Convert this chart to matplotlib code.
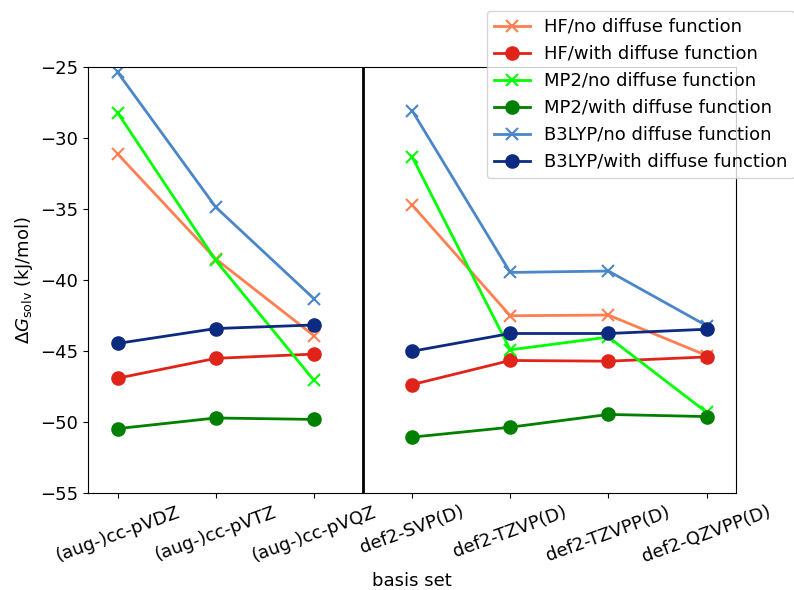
#!/usr/bin/env python3
"""Solvation free energy vs basis set for HF, MP2 and B3LYP."""

import matplotlib
matplotlib.use("Agg")
import matplotlib.pyplot as plt
import numpy as np

basis_sets = ["(aug-)cc-pVDZ", "(aug-)cc-pVTZ", "(aug-)cc-pVQZ",
              "def2-SVP(D)", "def2-TZVP(D)", "def2-TZVPP(D)", "def2-QZVPP(D)"]

hf_no = [-31.1, -38.5, -43.9, -34.7, -42.5, -42.45, -45.3]
hf_with = [-46.9, -45.5, -45.2, -47.35, -45.65, -45.7, -45.4]
mp2_no = [-28.2, -38.6, -47.05, -31.3, -44.9, -44.0, -49.3]
mp2_with = [-50.45, -49.7, -49.8, -51.05, -50.35, -49.45, -49.6]
b3lyp_no = [-25.35, -34.85, -41.3, -28.05, -39.45, -39.35, -43.2]
b3lyp_with = [-44.45, -43.4, -43.15, -45.0, -43.75, -43.75, -43.45]

series = [
    ("HF/no diffuse function", hf_no, "#FF7F50", "x"),
    ("HF/with diffuse function", hf_with, "#E0241A", "o"),
    ("MP2/no diffuse function", mp2_no, "#00FF00", "x"),
    ("MP2/with diffuse function", mp2_with, "#008000", "o"),
    ("B3LYP/no diffuse function", b3lyp_no, "#4A86C8", "x"),
    ("B3LYP/with diffuse function", b3lyp_with, "#0C2A80", "o"),
]

plt.rcParams["font.size"] = 13

fig = plt.figure(figsize=(7.94, 5.90), dpi=100)
ax = fig.add_axes([0.111, 0.164, 0.816, 0.722])

x = np.arange(len(basis_sets))
for label, vals, color, marker in series:
    vals = np.array(vals)
    # two separate families of basis sets, not joined
    ax.plot(x[:3], vals[:3], color=color, marker=marker, ms=9, mew=1.5, lw=2, label=label)
    ax.plot(x[3:], vals[3:], color=color, marker=marker, ms=9, mew=1.5, lw=2)

ax.axvline(2.5, color="black", lw=2)
ax.set_ylim(-55, -25)
ax.set_xlim(-0.3, 6.3)
ax.set_xticks(x)
ax.set_xticklabels(basis_sets, rotation=20, ha="center")
ax.set_xlabel("basis set")
ax.set_ylabel(r"$\Delta G_{\rm solv}$ (kJ/mol)")

fig.legend(loc="upper left", bbox_to_anchor=(0.613, 0.982), fontsize=13,
           borderaxespad=0, labelspacing=0.5)

fig.savefig("out.png", dpi=100)
